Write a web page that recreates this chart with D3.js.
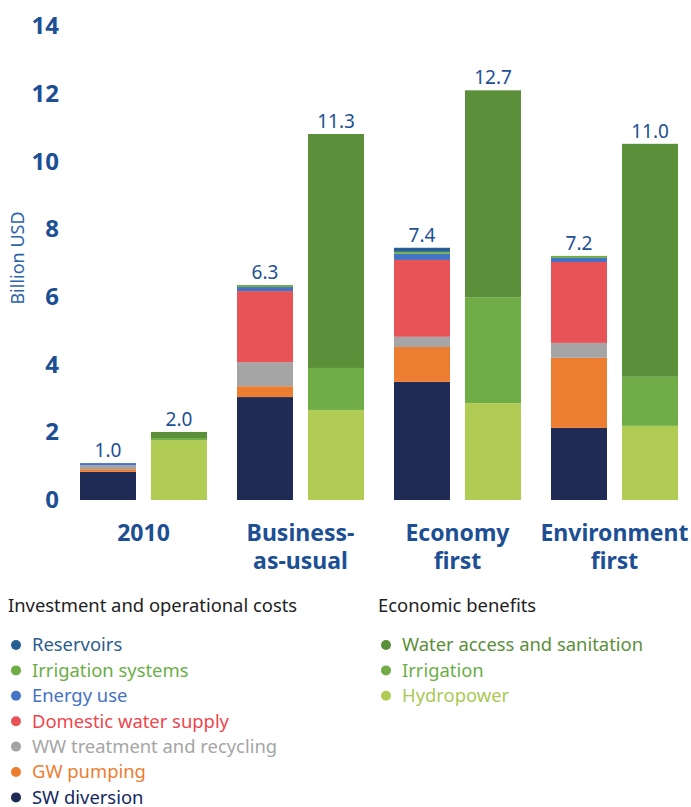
<!DOCTYPE html>
<html>
<head>
<meta charset="utf-8">
<script src="https://cdn.jsdelivr.net/npm/d3@7"></script>
<style>
  body { margin: 0; background: #fff; }
  svg text { font-family: "Noto Sans", "DejaVu Sans", sans-serif; }
</style>
</head>
<body>
<div id="chart"></div>
<script>
// Scenarios
var scenarios = ['2010', 'Business-as-usual', 'Economy first', 'Environment first'];
var scenarioLines = [['2010'], ['Business-', 'as-usual'], ['Economy', 'first'], ['Environment', 'first']];

// Cost components, bottom to top (billion USD)
var costKeys = ['SW diversion', 'GW pumping', 'WW treatment and recycling', 'Domestic water supply',
                'Energy use', 'Irrigation systems', 'Reservoirs'];
var swDiversion   = [0.83, 3.04, 3.49, 2.13];
var gwPumping     = [0.08, 0.32, 1.03, 2.07];
var wwTreatment   = [0.12, 0.71, 0.30, 0.44];
var domesticWater = [0.00, 2.10, 2.27, 2.39];
var energyUse     = [0.06, 0.12, 0.18, 0.12];
var irrigationSys = [0.00, 0.06, 0.06, 0.06];
var reservoirs    = [0.00, 0.00, 0.12, 0.00];
var costLabels = ['1.0', '6.3', '7.4', '7.2'];

// Benefit components, bottom to top
var benefitKeys = ['Hydropower', 'Irrigation', 'Water access and sanitation'];
var hydropower   = [1.77, 2.66, 2.86, 2.19];
var irrigation   = [0.06, 1.24, 3.13, 1.45];
var waterAccess  = [0.18, 6.91, 6.11, 6.88];
var benefitLabels = ['2.0', '11.3', '12.7', '11.0'];

var yTicks = [0, 2, 4, 6, 8, 10, 12, 14];

var colors = {
  'SW diversion': '#1f2b55',
  'GW pumping': '#ed7d31',
  'WW treatment and recycling': '#a5a5a5',
  'Domestic water supply': '#e85357',
  'Energy use': '#4472c4',
  'Irrigation systems': '#70ad47',
  'Reservoirs': '#255e91',
  'Hydropower': '#b0cc55',
  'Irrigation': '#70ad47',
  'Water access and sanitation': '#5b8f3a'
};
var textColors = {
  'SW diversion': '#13285e',
  'GW pumping': '#ed7d31',
  'WW treatment and recycling': '#a5a5a5',
  'Domestic water supply': '#f0454c',
  'Energy use': '#4472c4',
  'Irrigation systems': '#6aae47',
  'Reservoirs': '#2a5d8f',
  'Hydropower': '#a9c956',
  'Irrigation': '#6aae47',
  'Water access and sanitation': '#5b8f3a'
};

var width = 691, height = 807;
var blue = '#1d4f94';

var svg = d3.select('#chart').append('svg')
  .attr('width', width)
  .attr('height', height);

// Build tables
var costSeries = [swDiversion, gwPumping, wwTreatment, domesticWater, energyUse, irrigationSys, reservoirs];
var benefitSeries = [hydropower, irrigation, waterAccess];
var costRows = scenarios.map((s, i) => {
  var row = { scenario: s };
  costKeys.forEach((k, j) => row[k] = costSeries[j][i]);
  return row;
});
var benefitRows = scenarios.map((s, i) => {
  var row = { scenario: s };
  benefitKeys.forEach((k, j) => row[k] = benefitSeries[j][i]);
  return row;
});

// Scales
var x0 = d3.scaleBand().domain(scenarios).range([65, 693]);
var x1 = d3.scaleBand().domain(['cost', 'benefit']).range([15, 142]).paddingInner(0.2113);
var y = d3.scaleLinear().domain([0, 14]).range([500, 26]);

// Y axis
var yAxis = d3.axisLeft(y).tickValues(yTicks).tickSize(0).tickPadding(0);
var gy = svg.append('g')
  .attr('transform', 'translate(59,0)')
  .call(yAxis);
gy.select('.domain').remove();
gy.selectAll('text')
  .attr('fill', blue)
  .style('font-size', '24px')
  .style('font-weight', 'bold')
  .attr('dy', '0.32em');

svg.append('text')
  .attr('transform', 'translate(24,258) rotate(-90)')
  .attr('text-anchor', 'middle')
  .attr('fill', '#2e64a8')
  .style('font-size', '18px')
  .text('Billion USD');

// Stacked bars
function drawStack(rows, keys, kind) {
  var stacked = d3.stack().keys(keys)(rows);
  svg.append('g').selectAll('g')
    .data(stacked)
    .join('g')
    .attr('fill', (d) => colors[d.key])
    .selectAll('rect')
    .data((d) => d)
    .join('rect')
    .attr('x', (d) => x0(d.data.scenario) + x1(kind))
    .attr('width', x1.bandwidth())
    .attr('y', (d) => y(d[1]))
    .attr('height', (d) => y(d[0]) - y(d[1]));
  return stacked[stacked.length - 1];
}

var costTop = drawStack(costRows, costKeys, 'cost');
var benefitTop = drawStack(benefitRows, benefitKeys, 'benefit');

// Total labels
function drawLabels(top, labels, kind) {
  svg.append('g').selectAll('text')
    .data(top)
    .join('text')
    .attr('x', (d) => x0(d.data.scenario) + x1(kind) + x1.bandwidth() / 2)
    .attr('y', (d) => y(d[1]) - 6)
    .attr('text-anchor', 'middle')
    .attr('fill', blue)
    .style('font-size', '19px')
    .text((d, i) => labels[i]);
}
drawLabels(costTop, costLabels, 'cost');
drawLabels(benefitTop, benefitLabels, 'benefit');

// Category labels
var cats = svg.append('g').selectAll('text')
  .data(scenarios)
  .join('text')
  .attr('x', (d) => x0(d) + x0.bandwidth() / 2)
  .attr('y', 541)
  .attr('text-anchor', 'middle')
  .attr('fill', blue)
  .style('font-size', '23px')
  .style('font-weight', 'bold');
cats.selectAll('tspan')
  .data((d, i) => scenarioLines[i])
  .join('tspan')
  .attr('x', function() { return this.parentNode.getAttribute('x'); })
  .attr('dy', (d, i) => i === 0 ? 0 : 28)
  .text((d) => d);

// Legends
function drawLegend(title, keys, lx, ly) {
  var g = svg.append('g').attr('transform', `translate(${lx}, ${ly})`);
  g.append('text')
    .attr('x', 0)
    .attr('y', 0)
    .attr('fill', '#222')
    .style('font-size', '18.4px')
    .text(title);
  var item = g.selectAll('.item')
    .data(keys)
    .join('g')
    .attr('class', 'item')
    .attr('transform', (d, i) => `translate(0, ${33 + i * 25.4})`);
  item.append('circle')
    .attr('cx', 8)
    .attr('cy', 0)
    .attr('r', 5)
    .attr('fill', (d) => colors[d]);
  item.append('text')
    .attr('x', 24)
    .attr('dy', '0.35em')
    .attr('fill', (d) => textColors[d])
    .style('font-size', '18.4px')
    .text((d) => d);
}
drawLegend('Investment and operational costs', costKeys.slice().reverse(), 8, 612);
drawLegend('Economic benefits', benefitKeys.slice().reverse(), 378, 612);
</script>
</body>
</html>
